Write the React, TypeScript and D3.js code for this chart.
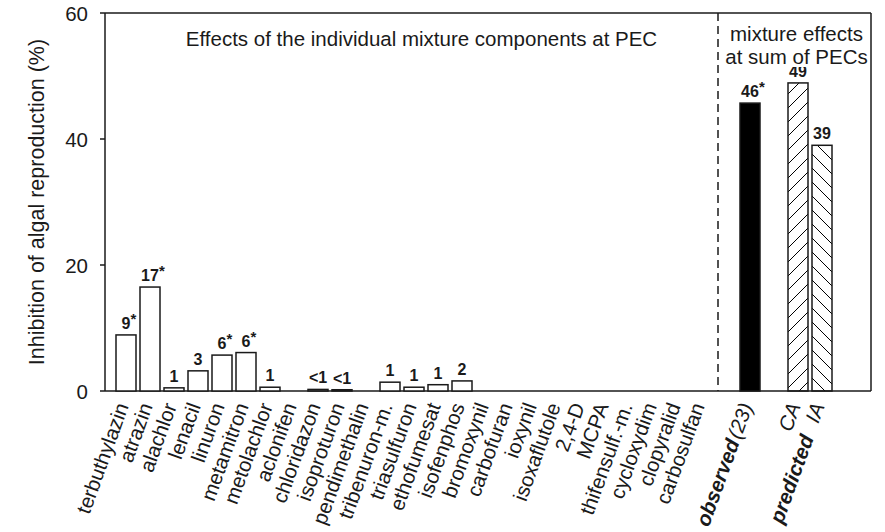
import React from "react";
import * as d3 from "d3";

const categories = [
  "terbuthylazin", "atrazin", "alachlor", "lenacil", "linuron", "metamitron",
  "metolachlor", "aclonifen", "chloridazon", "isoproturon", "pendimethalin",
  "tribenuron-m.", "triasulfuron", "ethofumesat", "isofenphos", "bromoxynil",
  "carbofuran", "ioxynil", "isoxaflutole", "2,4-D", "MCPA", "thifensulf.-m.",
  "cycloxydim", "clopyralid", "carbosulfan",
];
const values = [
  8.9, 16.5, 0.5, 3.2, 5.7, 6.1, 0.6, 0, 0.25, 0.2, 0, 1.4, 0.6, 1.0, 1.6,
  0, 0, 0, 0, 0, 0, 0, 0, 0, 0,
];
const valueLabels = [
  "9", "17", "1", "3", "6", "6", "1", "", "<1", "<1", "", "1", "1", "1", "2",
  "", "", "", "", "", "", "", "", "", "",
];
const significant = [
  true, true, false, false, true, true, false, false, false, false, false,
  false, false, false, false, false, false, false, false, false, false, false,
  false, false, false,
];

const mixtureKeys = ["observed", "CA", "IA"];
const mixtureValues = [45.7, 48.9, 39.0];
const mixtureLabels = ["46", "49", "39"];
const mixtureSignificant = [true, false, false];

const yTicks = [0, 20, 40, 60];

const W = 885;
const H = 532;
const FONT = "'Liberation Sans', Arial, Helvetica, sans-serif";
const INK = "#1a1a1a";

export default function App() {
  const y = d3.scaleLinear().domain([0, 60]).range([391, 13]);
  const slots = [...categories, "_dash", "observed", "_gap", "CA", "IA", "_end"];
  const x = d3
    .scaleBand<string>()
    .domain(slots)
    .range([116, 116 + 24 * slots.length])
    .paddingInner(4 / 24)
    .paddingOuter(2 / 24)
    .align(0);
  const bw = x.bandwidth();
  const left = 105;
  const right = 871;
  const top = y(60);
  const bottom = y(0);
  const dashX = (x("_dash") as number) + 2;
  const labelY = 406;
  const labelDx = 3;

  const labelFor = (cx: number, v: number, txt: string, star: boolean, key: string) => {
    if (!txt) return null;
    const ty = y(v) - 6;
    const halfW = txt.length * 4.5;
    return (
      <g key={key}>
        <text x={cx} y={ty} textAnchor="middle" fontSize={16} fontWeight="bold" fill={INK}>
          {txt}
        </text>
        {star && (
          <text x={cx + halfW} y={ty - 5} fontSize={15} fontWeight="bold" fill={INK}>
            *
          </text>
        )}
      </g>
    );
  };

  const mixCenter = (dashX + right) / 2 + 2;

  return (
    <svg width={W} height={H} style={{ display: "block", position: "absolute", left: 0, top: 0 }} fontFamily={FONT}>
      <defs>
        <pattern id="hatchCA" patternUnits="userSpaceOnUse" width={14} height={14}>
          <path d="M-1,15 L15,-1 M-3,3 L3,-3 M11,17 L17,11" stroke="#000" strokeWidth={1} />
        </pattern>
        <pattern id="hatchIA" patternUnits="userSpaceOnUse" width={14} height={14}>
          <path d="M-1,-1 L15,15 M11,-3 L17,3 M-3,11 L3,17" stroke="#000" strokeWidth={1} />
        </pattern>
      </defs>
      <rect x={0} y={0} width={W} height={H} fill="#fff" />

      {/* frame */}
      <line x1={left} x2={right} y1={top} y2={top} stroke={INK} strokeWidth={1.5} />
      <line x1={left} x2={right} y1={bottom} y2={bottom} stroke={INK} strokeWidth={1.5} />
      <line x1={left} x2={left} y1={top} y2={bottom} stroke={INK} strokeWidth={1.5} />
      <line x1={right} x2={right} y1={top} y2={bottom} stroke={INK} strokeWidth={1.5} />
      <line x1={dashX} x2={dashX} y1={top} y2={bottom} stroke={INK} strokeWidth={1.5} strokeDasharray="8,5" />

      {/* y ticks */}
      {yTicks.map((t) => (
        <g key={t}>
          <line x1={left - 5} x2={left} y1={y(t)} y2={y(t)} stroke={INK} strokeWidth={1.5} />
          <text x={88} y={y(t)} textAnchor="end" dominantBaseline="central" fontSize={20.5} fill={INK}>
            {t}
          </text>
        </g>
      ))}
      <text
        transform={`translate(37,${(top + bottom) / 2}) rotate(-90)`}
        textAnchor="middle"
        dominantBaseline="central"
        fontSize={21.5}
        fill={INK}
      >
        Inhibition of algal reproduction (%)
      </text>

      {/* individual bars */}
      {categories.map((c, i) =>
        values[i] > 0 ? (
          <rect
            key={c}
            x={x(c)}
            y={y(values[i])}
            width={bw}
            height={bottom - y(values[i])}
            fill="#fff"
            stroke={INK}
            strokeWidth={1.5}
          />
        ) : null
      )}
      {categories.map((c, i) =>
        labelFor((x(c) as number) + bw / 2, values[i], valueLabels[i], significant[i], "l" + c)
      )}

      {/* mixture bars */}
      {mixtureKeys.map((k, i) => (
        <rect
          key={k}
          x={x(k)}
          y={y(mixtureValues[i])}
          width={bw}
          height={bottom - y(mixtureValues[i])}
          fill={k === "observed" ? "#000" : k === "CA" ? "url(#hatchCA)" : "url(#hatchIA)"}
          stroke={INK}
          strokeWidth={1.5}
        />
      ))}
      {mixtureKeys.map((k, i) =>
        labelFor((x(k) as number) + bw / 2, mixtureValues[i], mixtureLabels[i], mixtureSignificant[i], "m" + k)
      )}

      {/* titles (drawn over the value labels, with white backing) */}
      <text x={(left + dashX) / 2 + 10} y={46} textAnchor="middle" fontSize={20.5} fill={INK}>
        Effects of the individual mixture components at PEC
      </text>
      <rect x={dashX + 6} y={47} width={right - dashX - 8} height={20} fill="#fff" />
      <text x={mixCenter} y={41} textAnchor="middle" fontSize={20.5} fill={INK}>
        mixture effects
      </text>
      <text x={mixCenter} y={64} textAnchor="middle" fontSize={20.5} fill={INK}>
        at sum of PECs
      </text>

      {/* category labels */}
      {categories.map((c) => (
        <text
          key={"t" + c}
          transform={`translate(${(x(c) as number) + bw / 2 + labelDx},${labelY}) rotate(-70)`}
          textAnchor="end"
          fontSize={20.5}
          fill={INK}
        >
          {c}
        </text>
      ))}
      <text
        transform={`translate(${(x("observed") as number) + bw / 2 + labelDx},${labelY}) rotate(-70)`}
        textAnchor="end"
        fontSize={20.5}
        fontStyle="italic"
        fill={INK}
      >
        <tspan fontWeight="bold">observed</tspan>
        <tspan dx={2}>(23)</tspan>
      </text>
      {["CA", "IA"].map((k) => (
        <text
          key={"t" + k}
          transform={`translate(${(x(k) as number) + bw / 2 + labelDx},${labelY}) rotate(-70)`}
          textAnchor="end"
          fontSize={20.5}
          fontStyle="italic"
          fill={INK}
        >
          {k}
        </text>
      ))}
      <text
        transform={`translate(${((x("CA") as number) + (x("IA") as number)) / 2 + bw / 2 + 4},${labelY + 32}) rotate(-70)`}
        textAnchor="end"
        fontSize={20.5}
        fontStyle="italic"
        fontWeight="bold"
        fill={INK}
      >
        predicted
      </text>
    </svg>
  );
}
